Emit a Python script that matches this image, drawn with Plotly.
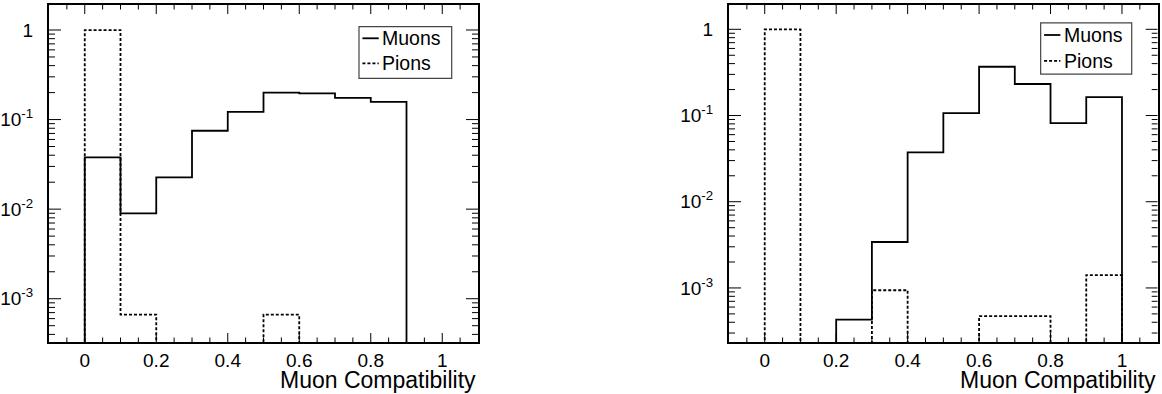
import math
import plotly.graph_objects as go

# Bin edges shared by both histograms (10 bins from 0 to 1)
bin_edges = [0.0, 0.1, 0.2, 0.3, 0.4, 0.5, 0.6, 0.7, 0.8, 0.9, 1.0]

# Normalised bin contents, left panel
left_muons = [0.0378, 0.00895, 0.0226, 0.075, 0.122, 0.200, 0.196, 0.175, 0.158, 0.0]
left_pions = [0.9987, 0.000665, 0.0, 0.0, 0.0, 0.000665, 0.0, 0.0, 0.0, 0.0]

# Normalised bin contents, right panel
right_muons = [0.0, 0.0, 0.000428, 0.00341, 0.0373, 0.1067, 0.368, 0.232, 0.0817, 0.1636]
right_pions = [0.9967, 0.0, 0.0, 0.00094, 0.0, 0.0, 0.000472, 0.000472, 0.0, 0.00141]

series_names = ["Muons", "Pions"]
x_title = "Muon Compatibility"

# Tick values and labels
x_major = [0.0, 0.2, 0.4, 0.6, 0.8, 1.0]
y_major = [1e-3, 1e-2, 1e-1, 1.0]
y_major_text = ["10<sup>-3</sup>", "10<sup>-2</sup>", "10<sup>-1</sup>", "1"]

# Axis ranges (x linear, y as log10)
x_range = [-0.1, 1.1]
left_yrange = [-3.483, 0.279]
right_yrange = [-3.627, 0.282]

FONT = "Liberation Sans, Arial, Helvetica, sans-serif"
FLOOR = 1e-9  # empty bins are drawn far below the frame and clipped
W, H = 1162, 394
left_dom = [49 / W, 478 / W]
right_dom = [729 / W, 1157.7 / W]
y_dom = [1 - 342 / H, 1 - 5 / H]


def step_xy(edges, counts):
    xs = [edges[0]] + list(edges)
    ys = [FLOOR] + [c if c > 0 else FLOOR for c in counts] + [FLOOR]
    return xs, ys


fig = go.Figure()

panels = [
    ("x", "y", left_dom, left_yrange, left_muons, left_pions),
    ("x2", "y2", right_dom, right_yrange, right_muons, right_pions),
]
for xa, ya, _, _, mu, pi in panels:
    for name, counts, dash in [(series_names[0], mu, "solid"), (series_names[1], pi, "3px,2px")]:
        xs, ys = step_xy(bin_edges, counts)
        fig.add_trace(go.Scatter(
            x=xs, y=ys, mode="lines", line_shape="hv", name=name,
            line=dict(color="black", width=1.8, dash=dash),
            xaxis=xa, yaxis=ya, showlegend=False, hoverinfo="skip",
        ))

# Tick marks on all four sides of each frame, drawn as one line trace per panel
x_minor = [round(-0.05 + 0.05 * i, 2) for i in range(23)]
x_minor = [v for v in x_minor if all(abs(v - m) > 1e-9 for m in x_major)]
y_minor = [k * 10.0 ** e for e in range(-4, 1) for k in range(2, 10)]

for xa, ya, dom, yr, _, _ in panels:
    pw = (dom[1] - dom[0]) * W
    ph = (y_dom[1] - y_dom[0]) * H
    tx, ty = [], []
    # x ticks: bottom and top, length in pixels converted to log10 span
    for vals, length in [(x_major, 9), (x_minor, 4.5)]:
        dl = length / ph * (yr[1] - yr[0])
        for v in vals:
            if not x_range[0] < v < x_range[1]:
                continue
            for a, b in [(yr[0], yr[0] + dl), (yr[1] - dl, yr[1])]:
                tx += [v, v, None]
                ty += [10 ** a, 10 ** b, None]
    # y ticks: left and right
    for vals, length in [(y_major, 12), (y_minor, 6)]:
        dl = length / pw * (x_range[1] - x_range[0])
        for v in vals:
            if not yr[0] < math.log10(v) < yr[1]:
                continue
            for a, b in [(x_range[0], x_range[0] + dl), (x_range[1] - dl, x_range[1])]:
                tx += [a, b, None]
                ty += [v, v, None]
    fig.add_trace(go.Scatter(x=tx, y=ty, mode="lines", line=dict(color="black", width=1),
                             xaxis=xa, yaxis=ya, showlegend=False, hoverinfo="skip",
                             connectgaps=False))

tickfont = dict(family=FONT, size=19, color="black")
xcommon = dict(
    range=x_range, tickmode="array", tickvals=x_major, ticks="",
    showline=True, linecolor="black", linewidth=2, mirror=True,
    showgrid=False, zeroline=False, tickfont=tickfont, ticklabelstandoff=0,
)
ycommon = dict(
    type="log", tickmode="array", tickvals=y_major, ticktext=y_major_text, ticks="",
    showline=True, linecolor="black", linewidth=2, mirror=True,
    showgrid=False, zeroline=False, domain=y_dom, tickfont=tickfont, ticklabelstandoff=10,
)
fig.update_layout(
    width=W, height=H, margin=dict(l=0, r=0, t=0, b=0),
    paper_bgcolor="white", plot_bgcolor="white", showlegend=False,
    xaxis=dict(xcommon, domain=left_dom, anchor="y"),
    yaxis=dict(ycommon, range=left_yrange, anchor="x"),
    xaxis2=dict(xcommon, domain=right_dom, anchor="y2"),
    yaxis2=dict(ycommon, range=right_yrange, anchor="x2"),
)

# Axis titles, right aligned under each frame
for xa in ["x", "x2"]:
    fig.add_annotation(
        text=x_title, xref=f"{xa} domain", yref="paper", x=1.0, y=1 - 380 / H,
        xanchor="right", yanchor="middle", showarrow=False,
        font=dict(family=FONT, size=23, color="black"),
    )

# Boxed legends
legend_boxes = [
    ("x", "y", [0.7226, 0.9387], [0.7825, 0.9356], [0.9012, 0.827]),
    ("x2", "y2", [0.727, 0.9394], [0.795, 0.947], [0.911, 0.834]),
]
for xa, ya, bx, by, rows in legend_boxes:
    fig.add_shape(type="rect", xref=f"{xa} domain", yref=f"{ya} domain",
                  x0=bx[0], x1=bx[1], y0=by[0], y1=by[1],
                  line=dict(color="#444444", width=1.2), fillcolor="white", layer="above")
    for name, dash, yy in [(series_names[0], "solid", rows[0]), (series_names[1], "3px,2px", rows[1])]:
        fig.add_shape(type="line", xref=f"{xa} domain", yref=f"{ya} domain",
                      x0=bx[0] + 0.008, x1=bx[0] + 0.046, y0=yy, y1=yy,
                      line=dict(color="black", width=1.8, dash=dash), layer="above")
        fig.add_annotation(text=name, xref=f"{xa} domain", yref=f"{ya} domain",
                           x=bx[0] + 0.050, y=yy, xanchor="left", yanchor="middle",
                           showarrow=False, font=dict(family=FONT, size=19.5, color="black"))

fig.write_html("out.html")
